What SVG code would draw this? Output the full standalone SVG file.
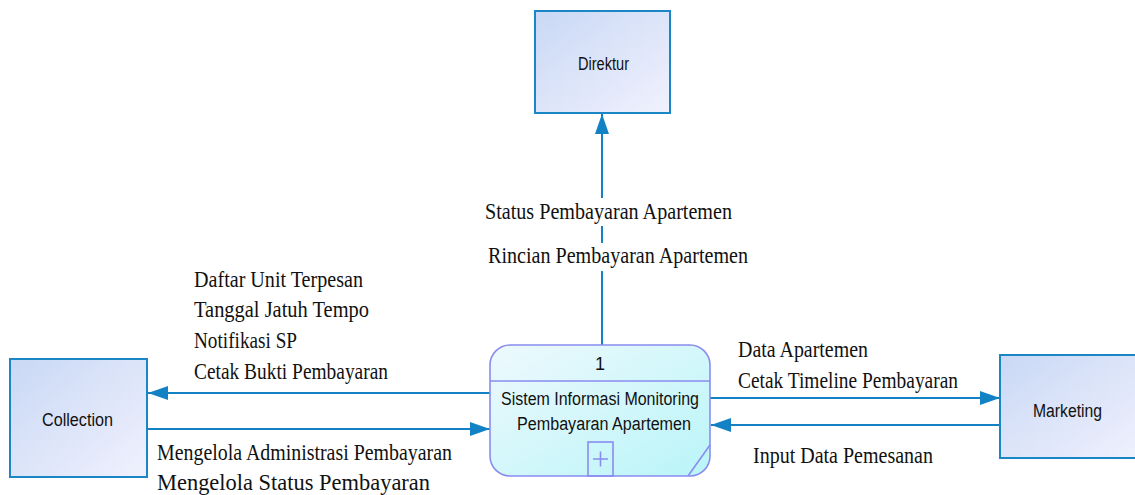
<svg xmlns="http://www.w3.org/2000/svg" width="1135" height="495" viewBox="0 0 1135 495">
  <style>
    .entity { stroke: #1a86c6; stroke-width: 2; }
    .proc { stroke: #8a8cf0; stroke-width: 1.6; fill: none; }
    .sans { font-family: "Liberation Sans", Arial, sans-serif; font-size: 18px; fill: #111; }
    .serif { font-family: "Liberation Serif", "Times New Roman", serif; font-size: 23px; fill: #111; }
    .flow { stroke: #1282c4; stroke-width: 2; fill: none; }
  </style>
  <defs>
    <linearGradient id="entGrad" x1="0" y1="0" x2="1" y2="1">
      <stop offset="0" stop-color="#c9d8f5"/>
      <stop offset="1" stop-color="#f0f1fd"/>
    </linearGradient>
    <linearGradient id="procGrad" x1="0" y1="0" x2="1" y2="1">
      <stop offset="0" stop-color="#eef9fd"/>
      <stop offset="1" stop-color="#b9f5f8"/>
    </linearGradient>
    <marker id="arrow" markerUnits="userSpaceOnUse" markerWidth="20" markerHeight="14" refX="20" refY="7" orient="auto">
      <path d="M0,0 L20,7 L0,14 Z" fill="#1282c4"/>
    </marker>
  </defs>

  <rect width="1135" height="495" fill="#ffffff"/>

  <!-- data flows -->
  <g id="connectors">
    <line class="flow" x1="602" y1="345" x2="602" y2="114" marker-end="url(#arrow)"/>
    <line class="flow" x1="490" y1="393" x2="148" y2="393" marker-end="url(#arrow)"/>
    <line class="flow" x1="148" y1="429" x2="490" y2="429" marker-end="url(#arrow)"/>
    <line class="flow" x1="710" y1="398" x2="1000" y2="398" marker-end="url(#arrow)"/>
    <line class="flow" x1="1000" y1="425" x2="711" y2="425" marker-end="url(#arrow)"/>

    <!-- flow labels -->
    <rect x="483" y="198" width="252" height="28" fill="#ffffff"/>
    <text class="serif" x="485" y="219" textLength="247" lengthAdjust="spacingAndGlyphs">Status Pembayaran Apartemen</text>
    <rect x="486" y="243" width="264" height="28" fill="#ffffff"/>
    <text class="serif" x="488" y="263" textLength="260" lengthAdjust="spacingAndGlyphs">Rincian Pembayaran Apartemen</text>

    <text class="serif" x="194" y="287" textLength="169" lengthAdjust="spacingAndGlyphs">Daftar Unit Terpesan</text>
    <text class="serif" x="194" y="317" textLength="175" lengthAdjust="spacingAndGlyphs">Tanggal Jatuh Tempo</text>
    <text class="serif" x="194" y="348" textLength="103" lengthAdjust="spacingAndGlyphs">Notifikasi SP</text>
    <text class="serif" x="194" y="379" textLength="194" lengthAdjust="spacingAndGlyphs">Cetak Bukti Pembayaran</text>

    <text class="serif" x="157" y="460" textLength="295" lengthAdjust="spacingAndGlyphs">Mengelola Administrasi Pembayaran</text>
    <text class="serif" x="157" y="490" textLength="273" lengthAdjust="spacingAndGlyphs">Mengelola Status Pembayaran</text>

    <text class="serif" x="738" y="357" textLength="130" lengthAdjust="spacingAndGlyphs">Data Apartemen</text>
    <text class="serif" x="738" y="388" textLength="220" lengthAdjust="spacingAndGlyphs">Cetak Timeline Pembayaran</text>
    <text class="serif" x="753" y="463" textLength="180" lengthAdjust="spacingAndGlyphs">Input Data Pemesanan</text>
  </g>

  <!-- external entity: Direktur -->
  <g id="direktur">
    <rect class="entity" x="535" y="11" width="135" height="102" fill="url(#entGrad)"/>
    <text class="sans" x="578" y="70" textLength="51" lengthAdjust="spacingAndGlyphs">Direktur</text>
  </g>

  <!-- external entity: Collection -->
  <g id="collection">
    <rect class="entity" x="10" y="359" width="137" height="118" fill="url(#entGrad)"/>
    <text class="sans" x="42" y="426" textLength="71" lengthAdjust="spacingAndGlyphs">Collection</text>
  </g>

  <!-- external entity: Marketing -->
  <g id="marketing">
    <rect class="entity" x="1000" y="355" width="145" height="103" fill="url(#entGrad)"/>
    <text class="sans" x="1033" y="417" textLength="69" lengthAdjust="spacingAndGlyphs">Marketing</text>
  </g>

  <!-- process 1 -->
  <g id="process-1">
    <rect x="490" y="345" width="220" height="131" rx="20" ry="20" fill="url(#procGrad)" stroke="#8a8cf0" stroke-width="1.6"/>
    <line class="proc" x1="490" y1="381" x2="710" y2="381"/>
    <text class="sans" x="600" y="370" text-anchor="middle">1</text>
    <text class="sans" x="501" y="405" textLength="198" lengthAdjust="spacingAndGlyphs">Sistem Informasi Monitoring</text>
    <text class="sans" x="517" y="430" textLength="174" lengthAdjust="spacingAndGlyphs">Pembayaran Apartemen</text>
    <rect class="proc" x="588" y="442" width="25" height="34"/>
    <path class="proc" d="M593,459 H608 M600.5,451.5 V466.5" stroke-width="1.4"/>
    <line class="proc" x1="710" y1="445" x2="688" y2="476"/>
  </g>
</svg>
